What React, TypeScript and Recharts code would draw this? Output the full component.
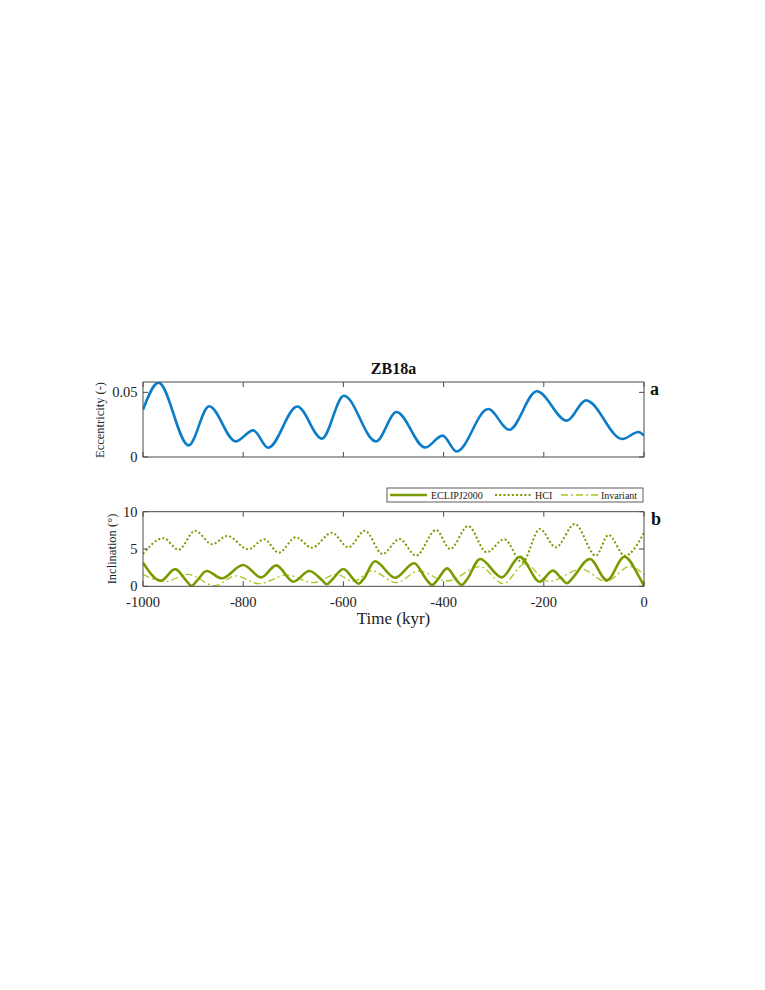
import React from 'react';
import { LineChart, Line, XAxis, YAxis } from 'recharts';

// ---- Eccentricity (panel a) ----
const eccTime = [-1000, -969, -909, -868, -815, -780, -750, -692, -643, -599, -535, -494, -437, -402, -374, -311, -269, -214, -154, -116, -43, -11, 0];
const eccValue = [0.0366, 0.0575, 0.009, 0.0392, 0.0121, 0.0206, 0.0072, 0.039, 0.0142, 0.0474, 0.0121, 0.0348, 0.0074, 0.0165, 0.0043, 0.0371, 0.0211, 0.0508, 0.0281, 0.0438, 0.0139, 0.0193, 0.0165];

// ---- Inclination (panel b) ----
const eclipTime = [-1000, -964, -936, -913, -903, -893, -873, -843, -800, -764, -734, -700, -668, -643, -633, -623, -600, -580, -570, -560, -537, -497, -459, -433, -423, -413, -393, -374, -364, -354, -327, -284, -248, -208, -182, -164, -154, -144, -108, -74, -39, -10, 0];
const eclipValue = [3.16, 0.75, 2.3, 0.7, 0.05, 0.7, 2.05, 1.07, 2.85, 1.2, 2.8, 0.62, 2.05, 0.85, 0.27, 0.85, 2.32, 0.95, 0.35, 0.95, 3.35, 1.15, 3.08, 0.8, 0.17, 0.8, 2.4, 0.8, 0.17, 0.85, 3.66, 1.2, 3.95, 0.62, 2.1, 1.0, 0.4, 1.0, 3.66, 0.8, 3.97, 1.3, 0.08];

const hciTime = [-1000, -959, -929, -896, -862, -832, -790, -758, -729, -695, -663, -623, -590, -557, -522, -488, -455, -415, -387, -351, -314, -279, -243, -208, -176, -138, -96, -71, -38, 0];
const hciValue = [4.35, 6.45, 4.9, 7.45, 5.65, 6.75, 4.96, 6.3, 4.5, 6.57, 5.17, 7.18, 5.23, 7.45, 4.33, 6.34, 4.1, 7.55, 5.0, 8.08, 4.56, 6.3, 3.2, 7.68, 5.23, 8.35, 4.1, 6.88, 4.1, 7.18];

const invTime = [-1000, -957, -910, -857, -815, -768, -713, -660, -613, -580, -544, -494, -450, -394, -327, -281, -238, -190, -125, -76, -28, 0];
const invValue = [1.6, 0.62, 1.6, 0.08, 1.4, 0.35, 1.5, 0.48, 1.6, 0.62, 2.1, 0.48, 2.05, 0.71, 2.63, 0.35, 3.0, 0.65, 2.3, 0.65, 2.65, 1.55];

const xTicks = [-1000, -800, -600, -400, -200, 0];
const eccTicks = [0, 0.05];
const incTicks = [0, 5, 10];

const mk = (ts: number[], vs: number[]) => ts.map((t, i) => ({ t, v: vs[i] }));
const eccData = mk(eccTime, eccValue);
const eclipData = mk(eclipTime, eclipValue);
const hciData = mk(hciTime, hciValue);
const invData = mk(invTime, invValue);

const FONT = '"Liberation Serif", "DejaVu Serif", serif';
const AX = '#4a4a4a';
const BLUE = '#0a7cc8';
const G1 = '#789c00';
const G2 = '#7a9a00';
const G3 = '#a8c520';
const tickStyle = { fontFamily: FONT, fontSize: 14.5, fill: '#222' };
const blank = () => '';

export default function App() {
  return (
    <div style={{ position: 'absolute', left: 0, top: 0, width: 765, height: 990, background: '#fff' }}>
      {/* Panel a */}
      <div style={{ position: 'absolute', left: 0, top: 355 }}>
        <LineChart width={765} height={115} margin={{ top: 17, right: 111, bottom: 3, left: 103 }}>
          <XAxis xAxisId="b" dataKey="t" type="number" domain={[-1000, 0]} ticks={xTicks} orientation="bottom" height={10}
            allowDataOverflow stroke={AX} tickSize={-5} tickFormatter={blank} tick={tickStyle} />
          <XAxis xAxisId="t" dataKey="t" type="number" domain={[-1000, 0]} ticks={xTicks} orientation="top" height={10}
            allowDataOverflow stroke={AX} tickSize={-5} tickFormatter={blank} tick={tickStyle} />
          <YAxis yAxisId="l" type="number" domain={[0, 0.058]} ticks={eccTicks} width={40} allowDataOverflow stroke={AX}
            tickSize={-5} tickMargin={10.5} tick={tickStyle} tickFormatter={(v: number) => (v === 0 ? '0' : '0.05')} />
          <YAxis yAxisId="r" orientation="right" type="number" domain={[0, 0.058]} ticks={eccTicks} width={10} allowDataOverflow
            stroke={AX} tickSize={-5} tickFormatter={blank} tick={tickStyle} />
          <Line xAxisId="b" yAxisId="l" data={eccData} dataKey="v" type="monotone" stroke={BLUE} strokeWidth={2.6}
            dot={false} isAnimationActive={false} />
        </LineChart>
      </div>

      {/* Panel b */}
      <div style={{ position: 'absolute', left: 0, top: 500 }}>
        <LineChart width={765} height={130} margin={{ top: 1.7, right: 111, bottom: 13.7, left: 103 }}>
          <XAxis xAxisId="b" dataKey="t" type="number" domain={[-1000, 0]} ticks={xTicks} orientation="bottom" height={30}
            allowDataOverflow stroke={AX} tickSize={-5} tickMargin={15} tick={tickStyle} />
          <XAxis xAxisId="t" dataKey="t" type="number" domain={[-1000, 0]} ticks={xTicks} orientation="top" height={10}
            allowDataOverflow stroke={AX} tickSize={-5} tickFormatter={blank} tick={tickStyle} />
          <YAxis yAxisId="l" type="number" domain={[0, 10]} ticks={incTicks} width={40} allowDataOverflow stroke={AX}
            tickSize={-5} tickMargin={10.5} tick={tickStyle} />
          <YAxis yAxisId="r" orientation="right" type="number" domain={[0, 10]} ticks={incTicks} width={10} allowDataOverflow
            stroke={AX} tickSize={-5} tickFormatter={blank} tick={tickStyle} />
          <Line xAxisId="b" yAxisId="l" data={invData} dataKey="v" type="monotone" stroke={G3} strokeWidth={1.3}
            strokeDasharray="7 3 2 3" dot={false} isAnimationActive={false} />
          <Line xAxisId="b" yAxisId="l" data={hciData} dataKey="v" type="monotone" stroke={G2} strokeWidth={2}
            strokeDasharray="2 2.2" dot={false} isAnimationActive={false} />
          <Line xAxisId="b" yAxisId="l" data={eclipData} dataKey="v" type="monotone" stroke={G1} strokeWidth={2.6}
            dot={false} isAnimationActive={false} />
        </LineChart>
      </div>

      {/* Text & legend overlay */}
      <svg width={765} height={990} style={{ position: 'absolute', left: 0, top: 0, pointerEvents: 'none' }}
        fontFamily={FONT}>
        <text x={393.5} y={374} textAnchor="middle" fontSize={16} fontWeight="bold" fill="#111">ZB18a</text>
        <text x={650} y={395} fontSize={18} fontWeight="bold" fill="#111">a</text>
        <text x={651} y={524.5} fontSize={18} fontWeight="bold" fill="#111">b</text>
        <text transform="translate(103.5,420) rotate(-90)" textAnchor="middle" fontSize={12.5} fill="#222">Eccentricity (-)</text>
        <text transform="translate(116,549) rotate(-90)" textAnchor="middle" fontSize={12.5} fill="#222">Inclination (°)</text>
        <text x={393.5} y={624} textAnchor="middle" fontSize={17} fill="#222">Time (kyr)</text>

        <rect x={387} y={488} width={256} height={14} fill="#fff" stroke="#333" strokeWidth={0.8} />
        <line x1={390} y1={495} x2={427} y2={495} stroke={G1} strokeWidth={2.6} />
        <text x={431} y={498.5} fontSize={10} fill="#222">ECLIPJ2000</text>
        <line x1={495} y1={495} x2={532} y2={495} stroke={G2} strokeWidth={2} strokeDasharray="2 2.2" />
        <text x={535} y={498.5} fontSize={10} fill="#222">HCI</text>
        <line x1={561} y1={495} x2={598} y2={495} stroke={G3} strokeWidth={1.3} strokeDasharray="7 3 2 3" />
        <text x={601} y={498.5} fontSize={10} fill="#222">Invariant</text>
      </svg>
    </div>
  );
}
